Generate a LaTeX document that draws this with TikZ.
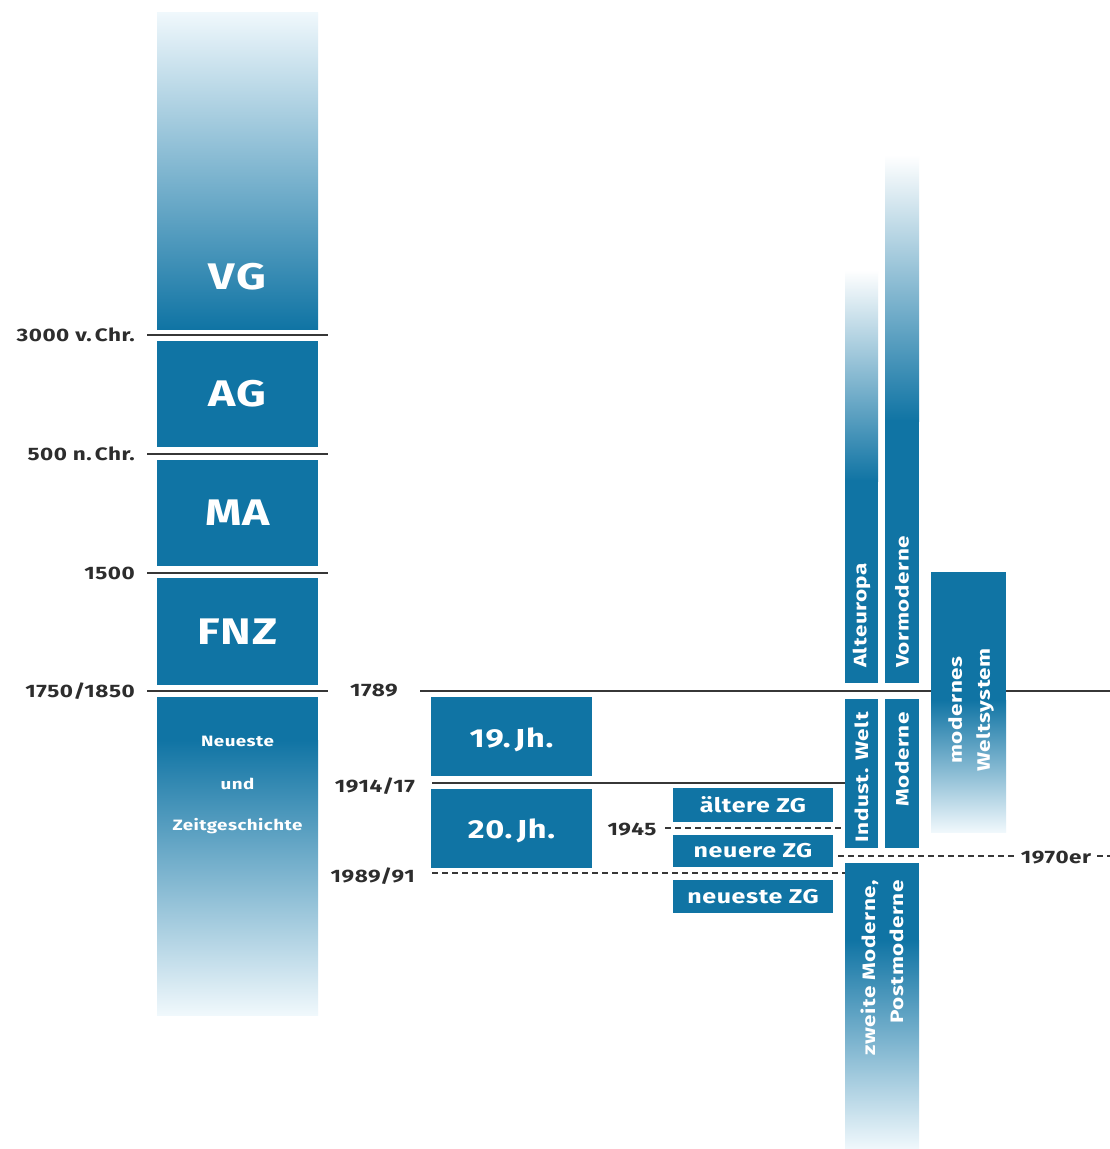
\documentclass[tikz,border=0pt]{standalone}
\usepackage{fontspec}
\setmainfont{Fira Sans}[FakeStretch=1.25, LetterSpace=3]
\definecolor{mblue}{RGB}{16,116,164}
\definecolor{lblue}{RGB}{95,178,216}
\definecolor{fade}{RGB}{240,248,252}
\definecolor{lgray}{RGB}{55,55,55}
\definecolor{dgray}{RGB}{45,45,45}
\begin{document}
\begin{tikzpicture}[x=1pt,y=-1pt,
  sbox/.style={fill=mblue, draw=none, inner sep=0pt, text=white},
  tick/.style={draw=lgray, line width=2.2pt},
  dtick/.style={draw=lgray, line width=2.2pt, dash pattern=on 6pt off 4pt},
  yr/.style={font=\fontsize{18}{20}\selectfont\bfseries, text=dgray, inner sep=0pt},
  big/.style={text=white, font=\fontsize{37}{40}\selectfont\bfseries, inner sep=0pt},
  mid/.style={text=white, font=\fontsize{26}{28}\selectfont\bfseries, inner sep=0pt},
  zg/.style={text=white, font=\fontsize{20}{22}\selectfont\bfseries, inner sep=0pt},
  vert/.style={text=white, font=\fontsize{18}{28}\selectfont\bfseries, inner sep=0pt, rotate=90},
  small/.style={text=white, font=\fontsize{15}{17}\selectfont\bfseries, inner sep=0pt}]
\useasboundingbox (0,0) rectangle (1110,1149);
\fill[white] (0,0) rectangle (1110,1149);

% ---------- left column ----------
\shade[top color=fade, middle color=lblue, bottom color=mblue] (157,12) rectangle (318,329);
\node[big] (vg) at (237.5,277) {VG};
\node[sbox, minimum width=161pt, minimum height=106pt] (ag) at (237.5,394) {};
\node[big] at (ag) {AG};
\node[sbox, minimum width=161pt, minimum height=106pt] (ma) at (237.5,513) {};
\node[big] at (ma) {MA};
\node[sbox, minimum width=161pt, minimum height=107pt] (fnz) at (237.5,631.5) {};
\node[big] at (fnz) {FNZ};
\fill[mblue] (157,697) rectangle (318,741);
\shade[top color=mblue, middle color=lblue, bottom color=fade] (157,740) rectangle (318,1015);
\node[small] (nz1) at (237.5,741) {Neueste};
\node[small] (nz2) at (237.5,784) {und};
\node[small] (nz3) at (237.5,826) {Zeitgeschichte};

% ---------- ticks left ----------
\coordinate (a1) at (147,335); \coordinate (b1) at (328,335);
\coordinate (a2) at (147,454); \coordinate (b2) at (328,454);
\coordinate (a3) at (147,573); \coordinate (b3) at (328,573);
\coordinate (a4) at (147,691); \coordinate (b4) at (328,691);
\draw[tick] (a1) -- (b1);
\draw[tick] (a2) -- (b2);
\draw[tick] (a3) -- (b3);
\draw[tick] (a4) -- (b4);
\node[yr, anchor=east] (l3000) at (135,335) {3000 v.\,Chr.};
\node[yr, anchor=east] (l500) at (135,454) {500 n.\,Chr.};
\node[yr, anchor=east] (l1500) at (135,573) {1500};
\node[yr, anchor=east] (l1750) at (135,691) {1750/1850};

% ---------- 1789 line ----------
\node[yr] (l1789) at (374,691) {1789};
\coordinate (c1) at (420,691); \coordinate (c2) at (1110,691);
\draw[tick] (c1) -- (c2);

% ---------- centuries ----------
\node[sbox, minimum width=161pt, minimum height=79pt] (j19) at (511.5,736.5) {};
\node[mid] at (511.5,740) {19.\,Jh.};
\node[sbox, minimum width=161pt, minimum height=79pt] (j20) at (511.5,828.5) {};
\node[mid] at (511.5,831) {20.\,Jh.};
\coordinate (d1) at (432,783); \coordinate (d2) at (846,783);
\draw[tick] (d1) -- (d2);
\node[yr, anchor=east] (l1914) at (415,786) {1914/17};
\coordinate (e1) at (432,873); \coordinate (e2) at (845,873);
\draw[dtick] (e1) -- (e2);
\node[yr, anchor=east] (l1989) at (415,876) {1989/91};

% ---------- ZG boxes ----------
\node[sbox, minimum width=160pt, minimum height=34pt] (zg1) at (753,805) {};
\node[zg] at (zg1) {ältere ZG};
\node[sbox, minimum width=160pt, minimum height=32pt] (zg2) at (753,851) {};
\node[zg] at (zg2) {neuere ZG};
\node[sbox, minimum width=160pt, minimum height=33pt] (zg3) at (753,896.5) {};
\node[zg] at (zg3) {neueste ZG};
\node[yr] (l1945) at (632,830) {1945};
\coordinate (f1) at (665,828); \coordinate (f2) at (845,828);
\draw[dtick] (f1) -- (f2);

% ---------- right columns ----------
\shade[top color=white, middle color=lblue!60, bottom color=mblue] (845,270) rectangle (878,481);
\fill[mblue] (845,480) rectangle (878,683);
\shade[top color=white, middle color=lblue!60, bottom color=mblue] (885,155) rectangle (919,421);
\fill[mblue] (885,420) rectangle (919,683);
\node[vert, anchor=west] (alt) at (861.5,668) {Alteuropa};
\node[vert, anchor=west] (vor) at (902,668) {Vormoderne};

\node[sbox, minimum width=33pt, minimum height=149pt] (ind) at (861.5,773.5) {};
\node[vert, anchor=east] at (861.5,712) {Indust. Welt};
\node[sbox, minimum width=34pt, minimum height=149pt] (mod) at (902,773.5) {};
\node[vert, anchor=east] at (902,712) {Moderne};

\fill[mblue] (931,572) rectangle (1006,701);
\shade[top color=mblue, middle color=lblue, bottom color=fade] (931,700) rectangle (1006,832);
\node[vert, align=center] (welt) at (971,710) {modernes\\Weltsystem};

\fill[mblue] (845,863) rectangle (919,941);
\shade[top color=mblue, middle color=lblue, bottom color=fade] (845,940) rectangle (919,1149);
\node[vert, align=right, anchor=east] (zm) at (882,880) {zweite Moderne,\\Postmoderne};

% ---------- 1970er ----------
\coordinate (g1) at (838,856); \coordinate (g2) at (1016,856);
\coordinate (g3) at (1097,856); \coordinate (g4) at (1110,856);
\draw[dtick] (g1) -- (g2);
\draw[dtick] (g3) -- (g4);
\node[yr] (l1970) at (1056,858) {1970er};
\end{tikzpicture}
\end{document}
